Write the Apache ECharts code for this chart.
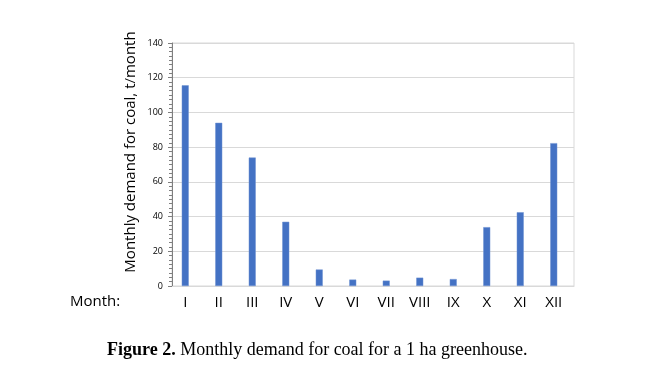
<!DOCTYPE html>
<html><head><meta charset="utf-8">
<script src="https://cdn.jsdelivr.net/npm/echarts@6/dist/echarts.min.js"></script>
<style>html,body{margin:0;padding:0;background:#fff}#c{width:666px;height:373px}</style>
</head><body><div id="c"></div>
<script>
const categories = ['I','II','III','IV','V','VI','VII','VIII','IX','X','XI','XII'];
const coalDemand = [115.6, 94, 74, 37, 9.5, 3.7, 3.1, 4.8, 4, 33.9, 42.5, 82.3];
const emptySeries = [null, null, null, null, null, null, null, null, null, null, null, null];
const yTicks = [0, 20, 40, 60, 80, 100, 120, 140];
const yTitle = 'Monthly demand for coal, t/month';
const xTitle = 'Month:';
const captionBold = 'Figure 2.';
const captionText = ' Monthly demand for coal for a 1 ha greenhouse.';

const chart = echarts.init(document.getElementById('c'), null, {renderer: 'canvas'});
chart.setOption({
  animation: false,
  backgroundColor: '#fff',
  grid: {left: 172, right: 92, top: 43, bottom: 87, containLabel: false,
         show: true, borderColor: '#d9d9d9', borderWidth: 1},
  title: {
    text: '{b|' + captionBold + '}{r|' + captionText + '}',
    left: 102, top: 336,
    textStyle: {fontWeight: 'normal', rich: {
      b: {fontFamily: 'Liberation Serif', fontWeight: 'bold', fontSize: 18, color: '#000'},
      r: {fontFamily: 'Liberation Serif', fontWeight: 'normal', fontSize: 18, color: '#000'}
    }}
  },
  graphic: [{
    type: 'text', left: 70, top: 294,
    style: {text: xTitle, font: '15px "Open Sans"', fill: '#000'}
  }, {
    type: 'text', x: 131, y: 152, rotation: Math.PI / 2,
    style: {text: yTitle, font: '15px "Open Sans"', fill: '#000', align: 'center', verticalAlign: 'middle'}
  }],
  xAxis: {
    type: 'category', data: categories,
    axisLine: {lineStyle: {color: '#d9d9d9'}},
    axisTick: {show: false},
    axisLabel: {color: '#000', fontFamily: 'Open Sans', fontSize: 15, margin: 9, interval: 0, padding: [0, 7, 0, 0]}
  },
  yAxis: {
    type: 'value', min: yTicks[0], max: yTicks[yTicks.length - 1], interval: 20,
    axisLine: {show: true, lineStyle: {color: '#7f7f7f'}},
    axisTick: {show: true, inside: false, length: 4, lineStyle: {color: '#7f7f7f'}},
    minorTick: {show: true, splitNumber: 8, length: 3, lineStyle: {color: '#7f7f7f'}},
    axisLabel: {color: '#000', fontFamily: 'Open Sans', fontSize: 9, margin: 9},
    splitLine: {lineStyle: {color: '#d9d9d9'}}
  },
  series: [{
    type: 'bar', data: coalDemand, barWidth: 7, barGap: '0%',
    itemStyle: {color: '#4472C4', borderColor: '#6f93d3', borderWidth: 0.5}
  }, {
    type: 'bar', data: emptySeries, barWidth: 7
  }]
});
</script></body></html>
